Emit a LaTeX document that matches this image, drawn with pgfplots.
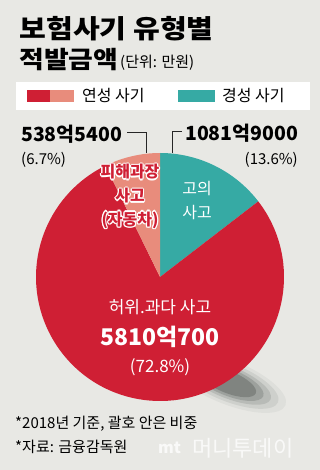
\documentclass[border=0pt]{standalone}
\usepackage{fontspec}
\usepackage{pgfplots}
\usepackage{pgfplotstable}
\pgfplotsset{compat=1.18}
\setmainfont{Noto Sans CJK KR}
\newfontfamily\krw[FakeStretch=1.12]{Noto Sans CJK KR}
\definecolor{bg}{HTML}{E8E8E4}
\definecolor{cred}{HTML}{CF1F34}
\definecolor{csalmon}{HTML}{E88C7C}
\definecolor{cteal}{HTML}{36AAA4}
\definecolor{shadow}{HTML}{4A4F4C}

\pgfplotstableread{
name value
teal 1081.9
red 5810.07
salmon 538.54
}\piedata
\pgfplotstablegetelem{0}{value}\of\piedata\pgfmathsetmacro\va{\pgfplotsretval}
\pgfplotstablegetelem{1}{value}\of\piedata\pgfmathsetmacro\vb{\pgfplotsretval}
\pgfplotstablegetelem{2}{value}\of\piedata\pgfmathsetmacro\vc{\pgfplotsretval}
\pgfmathsetmacro\tot{\va+\vb+\vc}
\pgfmathsetmacro\fa{\va/\tot}
\pgfmathsetmacro\fb{\vb/\tot}
\pgfmathsetmacro\fc{\vc/\tot}
\pgfmathsetmacro\aA{90-360*\fa}
\pgfmathsetmacro\aB{\aA-360*\fb}
\pgfmathsetmacro\aC{\aB-360*\fc}

\newcommand{\wn}[4]{\node[text=white,font=#3] at ([shift={(#4)}]#1) {#2};}
\newcommand{\outlined}[3]{% position, text, font
  \wn{#1}{#2}{#3}{-1.2pt,0pt}\wn{#1}{#2}{#3}{1.2pt,0pt}\wn{#1}{#2}{#3}{0pt,1.2pt}\wn{#1}{#2}{#3}{0pt,-1.2pt}%
  \wn{#1}{#2}{#3}{-0.9pt,-0.9pt}\wn{#1}{#2}{#3}{0.9pt,0.9pt}\wn{#1}{#2}{#3}{-0.9pt,0.9pt}\wn{#1}{#2}{#3}{0.9pt,-0.9pt}%
  \node[text=cred,font=#3] at (#1) {#2};}

\begin{document}
\begin{tikzpicture}
\begin{axis}[
  scale only axis, width=320pt, height=470pt,
  xmin=0, xmax=320, ymin=0, ymax=470, y dir=reverse,
  hide axis, clip=false]
% background
\fill[bg] (axis cs:0,0) rectangle (axis cs:320,470);
% title
\node[anchor=west,font=\krw\fontsize{26}{28}\selectfont\bfseries] at (axis cs:16,29) {보험사기 유형별};
\node[anchor=west,font=\krw\fontsize{24}{28}\selectfont\bfseries] at (axis cs:16,60) {적발금액};
\node[anchor=west,font=\fontsize{15}{18}\selectfont,inner sep=0pt] at (axis cs:120,63) {(단위: 만원)};
% legend
\fill[white] (axis cs:16,82) rectangle (axis cs:310,110);
\fill[cred] (axis cs:27,90) rectangle (axis cs:50,102);
\fill[csalmon] (axis cs:50,90) rectangle (axis cs:74,102);
\fill[cteal] (axis cs:178,90) rectangle (axis cs:215,102);
\node[anchor=west,font=\fontsize{16}{18}\selectfont,inner sep=0pt] at (axis cs:82,96) {연성 사기};
\node[anchor=west,font=\fontsize{16}{18}\selectfont,inner sep=0pt] at (axis cs:222,96) {경성 사기};
% shadow
\fill[shadow,opacity=0.06] (axis cs:228,382) ellipse[x radius=62pt, y radius=22pt, rotate=-22];
\fill[shadow,opacity=0.10] (axis cs:228,382) ellipse[x radius=54pt, y radius=19pt, rotate=-22];
\fill[shadow,opacity=0.16] (axis cs:228,382) ellipse[x radius=46pt, y radius=16pt, rotate=-22];
\fill[shadow,opacity=0.24] (axis cs:228,382) ellipse[x radius=38pt, y radius=13.5pt, rotate=-22];
\fill[shadow,opacity=0.35] (axis cs:228,382) ellipse[x radius=30pt, y radius=11pt, rotate=-22];
% pie
\fill[cteal] (axis cs:160,277) -- ++(90:124pt) arc[start angle=90, end angle=\aA, radius=124pt] -- cycle;
\fill[cred] (axis cs:160,277) -- ++(\aA:124pt) arc[start angle=\aA, end angle=\aB, radius=124pt] -- cycle;
\fill[csalmon] (axis cs:160,277) -- ++(\aB:124pt) arc[start angle=\aB, end angle=\aC, radius=124pt] -- cycle;
% leader lines
\draw[black!85,line width=0.8pt] (axis cs:127,132) -- (axis cs:146,132) -- (axis cs:146,153);
\draw[black!85,line width=0.8pt] (axis cs:172,153) -- (axis cs:172,131) -- (axis cs:182,131);
% outer labels
\node[anchor=west,font=\fontsize{19.5}{22}\selectfont\bfseries,inner sep=0pt] at (axis cs:21,134) {538억5400};
\node[anchor=west,font=\fontsize{15}{18}\selectfont,inner sep=0pt] at (axis cs:21,160) {(6.7\%)};
\node[anchor=west,font=\fontsize{19.5}{22}\selectfont\bfseries,inner sep=0pt] at (axis cs:185,133) {1081억9000};
\node[anchor=east,font=\fontsize{15}{18}\selectfont,inner sep=0pt] at (axis cs:298,160) {(13.6\%)};
% inner labels
\outlined{axis cs:130,172}{피해과장}{\fontsize{16}{18}\selectfont\bfseries}
\outlined{axis cs:130,196}{사고}{\fontsize{16}{18}\selectfont\bfseries}
\outlined{axis cs:130,220}{(자동차)}{\fontsize{16}{18}\selectfont\bfseries}
\node[text=white,font=\fontsize{16}{18}\selectfont] at (axis cs:197,189) {고의};
\node[text=white,font=\fontsize{16}{18}\selectfont] at (axis cs:197,213) {사고};
\node[text=white,font=\fontsize{17}{20}\selectfont] at (axis cs:160,307) {허위.과다 사고};
\node[text=white,font=\fontsize{23}{26}\selectfont\bfseries] at (axis cs:160,337) {5810억700};
\node[text=white,font=\fontsize{17}{20}\selectfont] at (axis cs:160,367) {(72.8\%)};
% footnotes
\node[anchor=west,font=\fontsize{15}{18}\selectfont,inner sep=0pt] at (axis cs:15,424) {*2018년 기준, 괄호 안은 비중};
\node[anchor=west,font=\fontsize{15}{18}\selectfont,inner sep=0pt] at (axis cs:15,447) {*자료: 금융감독원};
% watermark
\node[anchor=west,font=\fontsize{22}{24}\selectfont,text=white,opacity=0.75,inner sep=0pt] at (axis cs:192,448) {머니투데이};
\node[anchor=west,font=\fontsize{16}{18}\selectfont\bfseries\itshape,text=white,opacity=0.75,inner sep=0pt] at (axis cs:158,448) {mt};
\end{axis}
\end{tikzpicture}
\end{document}
